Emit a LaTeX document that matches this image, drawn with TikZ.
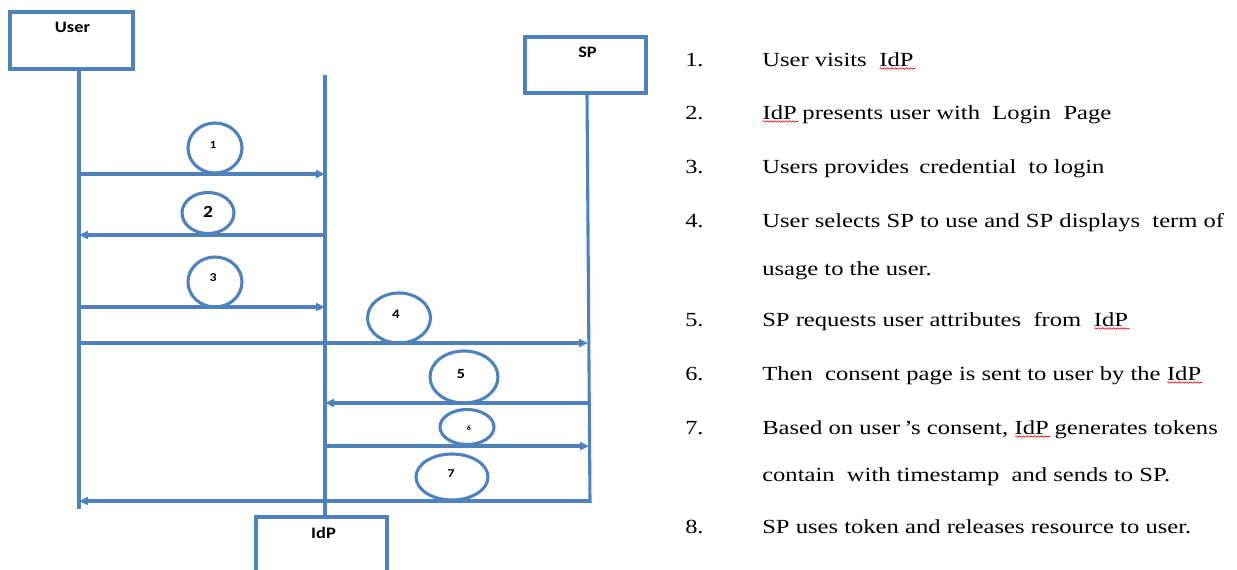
\documentclass[tikz,border=0pt]{standalone}
\usepackage{fontspec}
\setmainfont{Liberation Serif}
\newfontfamily\calib{Carlito}
\usetikzlibrary{arrows.meta,decorations.pathmorphing,shapes.geometric}
\definecolor{lb}{RGB}{79,129,189}
\newcommand\spell[1]{\tikz[baseline=(w.base),x=1pt,y=1pt]{\node[inner sep=0pt,outer sep=0pt](w){#1};\draw[red,line width=0.6pt,decorate,decoration={snake,amplitude=0.7pt,segment length=3pt}] ([yshift=-2.5pt]w.base west)--([yshift=-2.5pt,xshift=1pt]w.base east);}}
\begin{document}
\begin{tikzpicture}[x=1pt,y=-1pt,
  ln/.style={draw=lb,line width=3.1pt},
  msg/.style={ln,-{Triangle[length=9pt,width=8pt]}},
  box/.style={draw=lb,line width=3.1pt,rectangle,inner sep=0pt},
  boxlbl/.style={font=\calib\bfseries\fontsize{16}{18}\selectfont,anchor=north,inner sep=0pt,xscale=1.15,transform shape},
  bub/.style={draw=lb,line width=3.1pt,ellipse,inner sep=0pt},
  bnum/.style={inner sep=0pt,font=\calib\bfseries\fontsize{#1}{#1}\selectfont,xscale=1.15,transform shape},
  num/.style={anchor=base west,inner sep=0pt,font=\fontsize{20}{24}\selectfont,xscale=1.22,transform shape},
  itm/.style={anchor=base west,inner sep=0pt,font=\fontsize{20}{24}\selectfont,xscale=1.23,transform shape}]
\useasboundingbox (0,0) rectangle (1237,570);
% actor boxes
\node[box,minimum width=123pt,minimum height=57pt] (user) at (71.5,40.5) {};
\node[boxlbl] (userl) at ([xshift=1pt,yshift=-11pt]user.north) {User};
\node[box,minimum width=121pt,minimum height=56pt] (sp) at (585.5,65) {};
\node[boxlbl] (spl) at ([xshift=2pt,yshift=-11pt]sp.north) {SP};
\node[box,minimum width=131pt,minimum height=70pt] (idp) at (321.5,552) {};
\node[boxlbl] (idpl) at ([xshift=2pt,yshift=-12pt]idp.north) {IdP};
% lifelines
\coordinate (uT) at (79,69);  \coordinate (uB) at (79,509);
\coordinate (iT) at (325,75); \coordinate (iB) at (325,517);
\coordinate (sT) at (587,93); \coordinate (sB) at (590,503);
\draw[ln] (uT) -- (uB);
\draw[ln] (iT) -- (iB);
\draw[ln] (sT) -- (sB);
% message endpoints
\coordinate (u1) at (79,174);  \coordinate (i1) at (325,174);
\coordinate (u2) at (79,235);  \coordinate (i2) at (325,235);
\coordinate (u3) at (79,307);  \coordinate (i3) at (325,307);
\coordinate (u4) at (79,343);  \coordinate (s4) at (588,343);
\coordinate (i5) at (325,403); \coordinate (s5) at (589,403);
\coordinate (i6) at (325,446); \coordinate (s6) at (589,446);
\coordinate (u7) at (79,501);  \coordinate (s7) at (590,501);
\draw[msg] (u1) -- (i1);
\draw[msg] (i2) -- (u2);
\draw[msg] (u3) -- (i3);
\draw[msg] (u4) -- (s4);
\draw[msg] (s5) -- (i5);
\draw[msg] (i6) -- (s6);
\draw[msg] (s7) -- (u7);
% step bubbles
\node[bub,minimum width=54pt,minimum height=50pt] (b1) at (215,148) {};
\node[bnum=11] (l1) at (213,145) {1};
\node[bub,minimum width=52pt,minimum height=41pt] (b2) at (208,213) {};
\node[bnum=17] (l2) at (208,212) {2};
\node[bub,minimum width=54pt,minimum height=50pt] (b3) at (215,282) {};
\node[bnum=12] (l3) at (213,278) {3};
\node[bub,minimum width=63pt,minimum height=50pt] (b4) at (399,318) {};
\node[bnum=13] (l4) at (396,314) {4};
\node[bub,minimum width=68pt,minimum height=52pt] (b5) at (464,377) {};
\node[bnum=14] (l5) at (461,374) {5};
\node[bub,minimum width=54pt,minimum height=35pt] (b6) at (467,427) {};
\node[bnum=7] (l6) at (469,428) {6};
\node[bub,minimum width=72pt,minimum height=46pt] (b7) at (452,477) {};
\node[bnum=12] (l7) at (451,474) {7};
% list
\node[num] (n1) at (685,66) {1.};
\node[itm] (t1) at (762,66) {User visits \ \spell{IdP}};
\node[num] (n2) at (685,119) {2.};
\node[itm] (t2) at (762,119) {\spell{IdP}\,presents user with \ Login \ Page};
\node[num] (n3) at (685,173) {3.};
\node[itm] (t3) at (762,173) {Users provides \,credential \ to login};
\node[num] (n4) at (685,227) {4.};
\node[itm] (t4) at (762,227) {User selects SP to use and SP displays \ term of};
\node[itm] (t4b) at (762,275) {usage to the user.};
\node[num] (n5) at (685,326) {5.};
\node[itm] (t5) at (762,326) {SP requests user attributes \ from \ \spell{IdP}};
\node[num] (n6) at (685,380) {6.};
\node[itm] (t6) at (762,380) {Then \ consent page is sent to user by the \spell{IdP}};
\node[num] (n7) at (685,434) {7.};
\node[itm] (t7) at (762,434) {Based on user\,’s consent, \spell{IdP}\,generates tokens};
\node[itm] (t7b) at (762,481) {contain \ with timestamp \ and sends to SP.};
\node[num] (n8) at (685,533) {8.};
\node[itm] (t8) at (762,533) {SP uses token and releases resource to user.};
\end{tikzpicture}
\end{document}
